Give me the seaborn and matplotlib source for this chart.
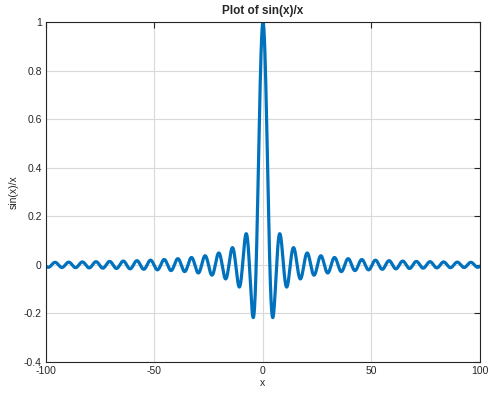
import numpy as np
import pandas as pd
import matplotlib
matplotlib.use("Agg")
import matplotlib.pyplot as plt
import seaborn as sns

# the curve named in the title: sin(x)/x sampled over the plotted range
x_values = np.linspace(-100, 100, 2001)
y_values = np.sinc(x_values / np.pi)

x_ticks = [-100, -50, 0, 50, 100]
y_ticks = [-0.4, -0.2, 0, 0.2, 0.4, 0.6, 0.8, 1]
x_tick_labels = ["-100", "-50", "0", "50", "100"]
y_tick_labels = ["-0.4", "-0.2", "0", "0.2", "0.4", "0.6", "0.8", "1"]

df = pd.DataFrame({"x": x_values, "y": y_values})

sns.set_style("white")
plt.rcParams["font.family"] = ["Liberation Sans", "DejaVu Sans"]

fig = plt.figure(figsize=(5.02, 3.94), dpi=100)
ax = fig.add_axes([46 / 502, 32 / 394, 434 / 502, 340 / 394])

sns.lineplot(data=df, x="x", y="y", ax=ax, color="#0072BD", linewidth=2.3)

ax.set_xlim(-100, 100)
ax.set_ylim(-0.4, 1)
ax.set_xticks(x_ticks)
ax.set_xticklabels(x_tick_labels)
ax.set_yticks(y_ticks)
ax.set_yticklabels(y_tick_labels)
ax.grid(True, color="#d9d9d9", linewidth=0.8)
ax.set_axisbelow(True)
ax.tick_params(direction="in", length=4, width=0.8, colors="#262626",
               labelsize=7.5, labelcolor="#262626", pad=3,
               top=True, right=True)
for s in ax.spines.values():
    s.set_color("#262626")
    s.set_linewidth(0.8)

ax.set_xlabel("x", fontsize=7.5, color="#262626", labelpad=1)
ax.set_ylabel("sin(x)/x", fontsize=7.5, color="#262626", labelpad=4)
ax.set_title("Plot of sin(x)/x", fontsize=8.5, fontweight="bold", pad=6)

fig.savefig("out.png", dpi=100)
